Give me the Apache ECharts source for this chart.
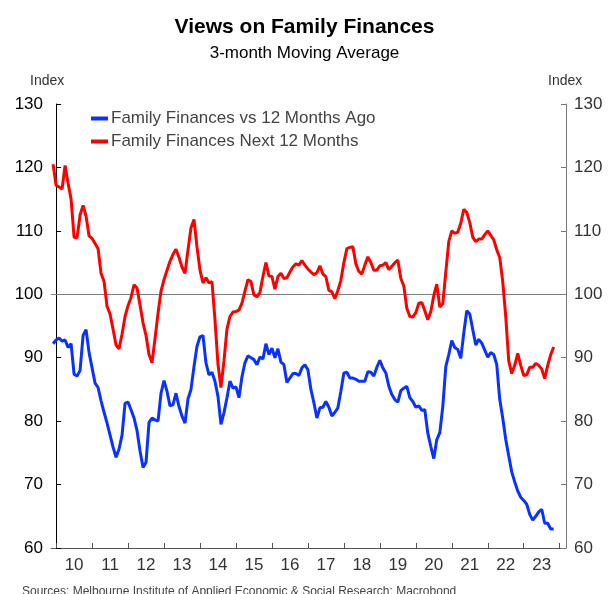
<!DOCTYPE html>
<html>
<head>
<meta charset="utf-8">
<script src="https://cdn.jsdelivr.net/npm/echarts@6/dist/echarts.min.js"></script>
<style>
html,body{margin:0;padding:0;background:#fff;}
#chart{width:609px;height:594px;}
</style>
</head>
<body>
<div id="chart"></div>
<script>
// First data point is December 2009 (month offset -1 relative to January 2010)
const firstMonthOffset = -1;

const vs12MonthsAgo = [
  92.2, 92.8, 93.1, 92.6, 92.8, 91.6, 92.2, 87.4, 87.1, 88.0, 93.5, 94.4, 90.8,
  88.4, 86.0, 85.3, 83.2, 81.4, 79.7, 77.8, 75.9, 74.3, 75.6, 77.8, 82.8,
  83.0, 81.8, 80.5, 78.5, 75.3, 72.7, 73.5, 79.8, 80.5, 80.2, 80.0, 84.4,
  86.4, 84.7, 82.4, 82.6, 84.4, 82.3, 80.8, 79.7, 83.5, 85.0, 88.6, 91.8,
  93.3, 93.5, 89.2, 87.3, 87.7, 86.3, 83.9, 79.5, 81.3, 83.7, 86.3, 85.2,
  85.4, 83.7, 87.0, 89.2, 90.3, 90.0, 89.7, 88.9, 90.1, 89.8, 92.2, 90.5,
  91.5, 90.0, 91.4, 89.3, 88.9, 86.1, 86.8, 87.5, 87.5, 87.2, 88.4, 88.9,
  88.1, 85.0, 82.9, 80.5, 82.1, 82.2, 83.1, 82.2, 80.8, 81.4, 82.1, 84.7,
  87.6, 87.7, 86.8, 86.8, 86.6, 86.3, 86.3, 86.3, 87.8, 87.7, 87.1, 88.5,
  89.6, 88.4, 87.6, 85.5, 84.2, 83.4, 83.0, 84.8, 85.2, 85.5, 83.7, 83.1,
  82.2, 82.4, 81.7, 81.8, 78.1, 76.0, 74.1, 77.1, 78.2, 82.3, 88.6, 90.5,
  92.7, 91.6, 91.3, 89.9, 93.9, 97.4, 96.9, 94.4, 92.0, 92.9, 92.3, 91.2,
  90.1, 90.8, 90.5, 88.9, 83.4, 80.5, 77.1, 74.5, 72.0, 70.4, 69.0, 68.0,
  67.5, 66.9, 65.3, 64.4, 65.0, 65.7, 66.1, 63.9, 63.9, 63.0, 63.0
];

const next12Months = [
  120.5, 117.2, 116.9, 116.6, 120.3, 117.5, 115.0, 109.0, 108.9, 112.5, 114.0, 112.3, 109.2,
  108.8, 108.0, 107.2, 103.3, 102.0, 98.1, 96.9, 94.5, 92.0, 91.4, 93.7, 96.5,
  98.2, 99.5, 101.5, 101.0, 98.3, 95.5, 93.5, 90.5, 89.2, 93.0, 97.0, 100.5,
  102.3, 103.8, 105.2, 106.3, 107.1, 105.8, 104.3, 103.3, 107.0, 110.5, 111.8, 107.5,
  103.8, 101.8, 102.6, 101.8, 102.0, 96.0, 89.0, 85.3, 89.5, 94.5, 96.5, 97.2,
  97.3, 97.5, 98.6, 100.5, 102.3, 102.0, 99.9, 99.6, 100.3, 102.8, 105.0, 102.9,
  102.8, 100.8, 102.8, 103.3, 102.5, 102.6, 103.5, 104.3, 104.8, 104.6, 105.3, 104.6,
  104.0, 103.5, 103.1, 103.4, 104.5, 103.2, 102.8, 100.6, 100.4, 99.3, 100.6, 102.2,
  105.0, 107.2, 107.4, 107.5, 104.8, 103.6, 103.2, 104.6, 105.9, 105.0, 103.8, 103.8,
  104.5, 104.6, 105.0, 103.9, 104.4, 105.0, 105.4, 102.5, 101.3, 97.8, 96.5, 96.4,
  97.1, 98.6, 98.7, 97.4, 96.0, 97.3, 99.8, 101.6, 98.0, 98.5, 103.5, 108.3,
  110.0, 109.6, 109.8, 111.2, 113.4, 112.9, 111.3, 109.0, 108.3, 108.7, 108.7, 109.4,
  110.0, 109.3, 108.6, 107.0, 105.8, 102.0, 96.5, 89.5, 87.5, 88.8, 90.7, 88.8,
  87.2, 87.3, 88.5, 88.5, 89.1, 88.8, 88.2, 86.7, 88.8, 90.5, 91.7
];

const yearLabels = ['10','11','12','13','14','15','16','17','18','19','20','21','22','23'];
const yearTickMonths = [0,12,24,36,48,60,72,84,96,108,120,132,144,156,168];
const yearLabelMonths = yearLabels.map((_, i) => i * 12 + 6);

const seriesNames = ['Family Finances vs 12 Months Ago', 'Family Finances Next 12 Months'];

function toPairs(arr) {
  return arr.map((v, i) => [i + firstMonthOffset, v]);
}

const chart = echarts.init(document.getElementById('chart'), null, {renderer: 'canvas'});
const font = 'Arial, "Liberation Sans", Helvetica, sans-serif';

const yAxisCommon = {
  type: 'value', min: 60, max: 130, interval: 10,
  axisTick: {show: true, inside: true, length: 5},
  splitLine: {show: false},
  axisLabel: {fontFamily: font, fontSize: 17, margin: 8}
};

chart.setOption({
  animation: false,
  backgroundColor: '#fff',
  textStyle: {fontFamily: font},
  title: [
    {text: 'Views on Family Finances', left: 'center', top: 12,
     textStyle: {fontFamily: font, fontSize: 21, fontWeight: 'bold', color: '#000'}},
    {text: '3-month Moving Average', left: 'center', top: 40,
     textStyle: {fontFamily: font, fontSize: 17, fontWeight: 'normal', color: '#000'}},
    {text: 'Sources: Melbourne Institute of Applied Economic & Social Research; Macrobond', left: 17, top: 581,
     textStyle: {fontFamily: font, fontSize: 12, fontWeight: 'normal', color: '#444'}}
  ],
  graphic: [
    {type: 'text', left: 30, top: 74, style: {text: 'Index', font: '14px ' + font, fill: '#333'}},
    {type: 'text', left: 548, top: 74, style: {text: 'Index', font: '14px ' + font, fill: '#333'}}
  ],
  legend: {
    orient: 'vertical', left: 86, top: 105, itemGap: 6,
    itemWidth: 17, itemHeight: 4, icon: 'rect',
    textStyle: {fontFamily: font, fontSize: 17, color: '#444', padding: [0, 0, 0, -2]},
    data: seriesNames
  },
  grid: {left: 51, right: 43, top: 104, bottom: 46},
  xAxis: {
    type: 'value', min: -1.7, max: 170.1,
    axisLine: {show: true, onZero: false, lineStyle: {color: '#555', width: 1}},
    axisTick: {show: true, inside: true, length: 5, customValues: yearTickMonths, lineStyle: {color: '#555'}},
    axisLabel: {customValues: yearLabelMonths, fontFamily: font, fontSize: 17, color: '#333', margin: 9,
      formatter: v => yearLabels[Math.round((v - 6) / 12)]},
    splitLine: {show: false}
  },
  yAxis: [
    Object.assign({}, yAxisCommon, {
      position: 'left',
      axisLine: {show: true, lineStyle: {color: '#000', width: 1}},
      axisLabel: Object.assign({}, yAxisCommon.axisLabel, {color: '#000'})
    }),
    Object.assign({}, yAxisCommon, {
      position: 'right',
      axisLine: {show: true, lineStyle: {color: '#777', width: 1}},
      axisTick: {show: true, inside: true, length: 5, lineStyle: {color: '#777'}},
      axisLabel: Object.assign({}, yAxisCommon.axisLabel, {color: '#333'})
    })
  ],
  series: [
    {
      name: seriesNames[0], type: 'line', yAxisIndex: 0,
      data: toPairs(vs12MonthsAgo), showSymbol: false, symbol: 'none',
      lineStyle: {color: '#0a32ff', width: 3}, itemStyle: {color: '#0a32ff'},
      z: 3,
      markLine: {
        silent: true, symbol: 'none', label: {show: false},
        lineStyle: {color: '#808080', width: 1, type: 'solid'},
        data: [{yAxis: 100}], z: 1
      }
    },
    {
      name: seriesNames[1], type: 'line', yAxisIndex: 0,
      data: toPairs(next12Months), showSymbol: false, symbol: 'none',
      lineStyle: {color: '#ff0000', width: 3}, itemStyle: {color: '#ff0000'},
      z: 3
    }
  ]
});
</script>
</body>
</html>
